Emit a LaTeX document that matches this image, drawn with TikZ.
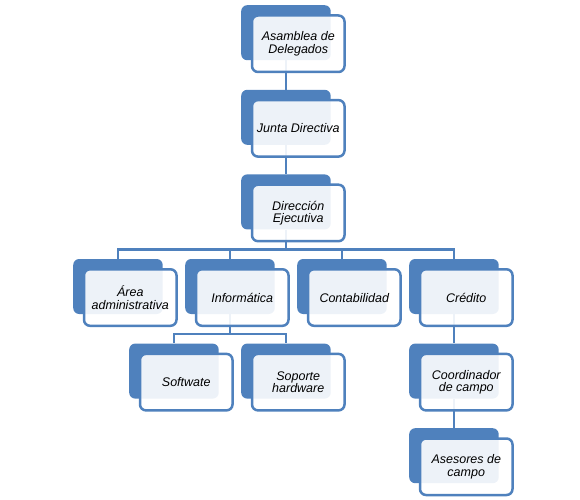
\documentclass[tikz,border=0pt]{standalone}
\usepackage{fontspec}
\setmainfont{Liberation Sans}
\usetikzlibrary{calc,backgrounds}
\definecolor{accent}{HTML}{4F81BD}
\tikzset{
  back/.style={fill=accent, draw=none, rounded corners=6pt, minimum width=89.5pt, minimum height=55pt, inner sep=0pt, anchor=north west},
  front/.style={fill=white, fill opacity=0.9, text opacity=1, draw=accent, draw opacity=1, line width=2.5pt, rounded corners=6pt,
    minimum width=92.5pt, minimum height=56.5pt, inner sep=0pt, anchor=north west, align=center,
    font=\itshape\fontsize{12.5}{12.5}\selectfont},
  conn/.style={draw=accent, line width=2.5pt}
}
\newcommand\orgbox[4]{%
  \node[back] (b#1) at ({#2},{499-#3}) {};
  \node[front] (#1) at ({#2+9.75},{499-#3-9.25}) {#4};
}
\begin{document}
\begin{tikzpicture}[x=1pt,y=1pt]
\useasboundingbox (0,0) rectangle (580,499);
\orgbox{asam}{241}{5}{Asamblea de\\Delegados}
\orgbox{junta}{241}{89.6}{Junta Directiva}
\orgbox{dir}{241}{174.2}{Dirección\\Ejecutiva}
\orgbox{area}{73}{258.8}{Área\\administrativa}
\orgbox{info}{185}{258.8}{Informática}
\orgbox{cont}{297}{258.8}{Contabilidad}
\orgbox{cred}{409}{258.8}{Crédito}
\orgbox{soft}{129}{343.4}{Softwate}
\orgbox{sop}{241}{343.4}{Soporte\\hardware}
\orgbox{coord}{409}{343.4}{Coordinador\\de campo}
\orgbox{ases}{409}{428}{Asesores de\\campo}
\begin{scope}[on background layer]
  \draw[conn] (basam.south) -- (bjunta.north);
  \draw[conn] (bjunta.south) -- (bdir.north);
  \foreach \c in {area,info,cont,cred}
    \draw[conn] (bdir.south) |- ($(b\c.north)+(0,9.5)$) -- (b\c.north);
  \foreach \c in {soft,sop}
    \draw[conn] (binfo.south) |- ($(b\c.north)+(0,9.5)$) -- (b\c.north);
  \draw[conn] (bcred.south) -- (bcoord.north);
  \draw[conn] (bcoord.south) -- (bases.north);
\end{scope}
\end{tikzpicture}
\end{document}
